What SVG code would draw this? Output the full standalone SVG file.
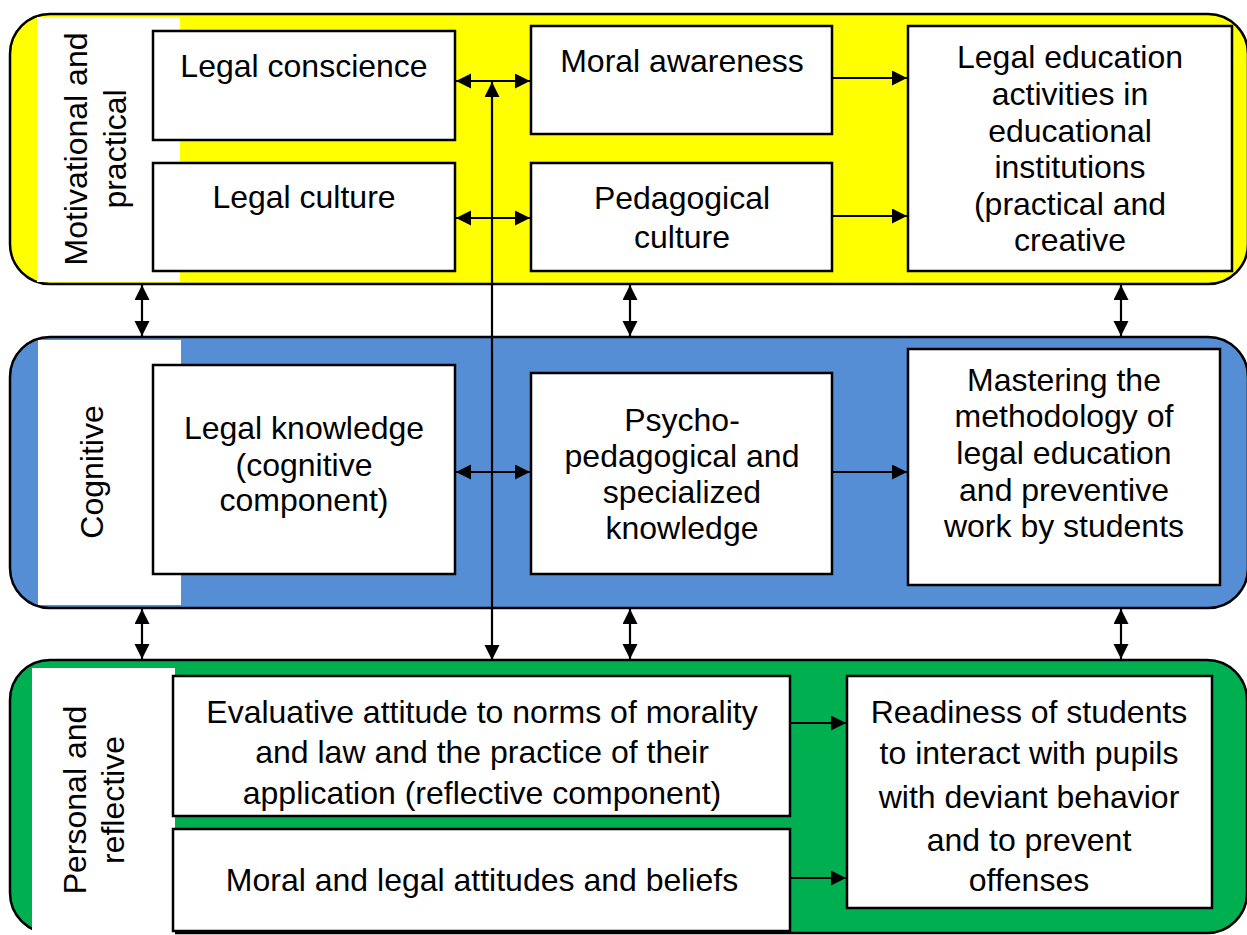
<svg xmlns="http://www.w3.org/2000/svg" width="1247" height="935" viewBox="0 0 1247 935">
<style>
.band{stroke:#000;stroke-width:2.5}
.lab{fill:#fff;stroke:none}
.box{fill:#fff;stroke:#000;stroke-width:2.5}
text{font-family:"Liberation Sans",Arial,sans-serif;font-size:32px;fill:#000;text-anchor:middle}
.c line{stroke:#000;stroke-width:2.2}
</style>
<defs>
<marker id="ah" markerUnits="userSpaceOnUse" markerWidth="16" markerHeight="16" refX="15" refY="7.5" orient="auto-start-reverse" viewBox="0 0 16 16">
<path d="M0,0 L15,7.5 L0,15 z" fill="#000"/>
</marker>
</defs>
<rect fill="#fff" width="1247" height="935"/>

<g id="band-motivational">
<rect class="band" x="10" y="14" width="1238" height="270" rx="40" fill="#ffff00"/>
<rect class="lab" x="37" y="17" width="143" height="265"/>
<text transform="translate(87,149) rotate(-90)">Motivational and</text>
<text transform="translate(126,149) rotate(-90)">practical</text>
</g>
<g id="band-cognitive">
<rect class="band" x="10" y="337" width="1238" height="271" rx="40" fill="#558ed5"/>
<rect class="lab" x="38" y="340" width="143" height="265"/>
<text transform="translate(103,472) rotate(-90)">Cognitive</text>
</g>
<g id="band-personal">
<rect class="band" x="10" y="660" width="1237" height="273" rx="40" fill="#00b050"/>
<rect class="lab" x="32" y="668" width="143" height="267"/>
<text transform="translate(86,800) rotate(-90)">Personal and</text>
<text transform="translate(124,800) rotate(-90)">reflective</text>
</g>

<g id="legal-conscience"><rect class="box" x="153" y="31" width="302" height="109"/><text x="304" y="77">Legal conscience</text></g>
<g id="legal-culture"><rect class="box" x="153" y="163" width="302" height="108"/><text x="304" y="208">Legal culture</text></g>
<g id="moral-awareness"><rect class="box" x="531" y="26" width="301" height="108"/><text x="682" y="72">Moral awareness</text></g>
<g id="pedagogical-culture"><rect class="box" x="531" y="163" width="301" height="108"/><text x="682" y="209">Pedagogical</text><text x="682" y="248">culture</text></g>
<g id="legal-education-activities"><rect class="box" x="908" y="26" width="324" height="245"/>
<text x="1070" y="68">Legal education</text><text x="1070" y="105">activities in</text><text x="1070" y="142">educational</text><text x="1070" y="178">institutions</text><text x="1070" y="215">(practical and</text><text x="1070" y="251">creative</text></g>

<g id="legal-knowledge"><rect class="box" x="153" y="365" width="302" height="209"/>
<text x="304" y="439">Legal knowledge</text><text x="304" y="476">(cognitive</text><text x="304" y="511">component)</text></g>
<g id="psycho-pedagogical"><rect class="box" x="531" y="373" width="301" height="201"/>
<text x="682" y="431">Psycho-</text><text x="682" y="467">pedagogical and</text><text x="682" y="503">specialized</text><text x="682" y="539">knowledge</text></g>
<g id="mastering"><rect class="box" x="908" y="349" width="312" height="236"/>
<text x="1064" y="391">Mastering the</text><text x="1064" y="427">methodology of</text><text x="1064" y="464">legal education</text><text x="1064" y="501">and preventive</text><text x="1064" y="537">work by students</text></g>

<g id="evaluative-attitude"><rect class="box" x="173" y="676" width="617" height="140"/>
<text x="482" y="723">Evaluative attitude to norms of morality</text><text x="482" y="763">and law and the practice of their</text><text x="482" y="804">application (reflective component)</text></g>
<g id="moral-legal-attitudes"><rect class="box" x="173" y="829" width="617" height="102"/>
<text x="482" y="891">Moral and legal attitudes and beliefs</text></g>
<g id="readiness"><rect class="box" x="847" y="676" width="365" height="232"/>
<text x="1029" y="723">Readiness of students</text><text x="1029" y="764">to interact with pupils</text><text x="1029" y="808">with deviant behavior</text><text x="1029" y="851">and to prevent</text><text x="1029" y="891">offenses</text></g>

<g id="connectors" class="c">
<line x1="456" y1="81" x2="530" y2="81" marker-start="url(#ah)" marker-end="url(#ah)"/>
<line x1="456" y1="218" x2="530" y2="218" marker-start="url(#ah)" marker-end="url(#ah)"/>
<line x1="456" y1="472" x2="530" y2="472" marker-start="url(#ah)" marker-end="url(#ah)"/>
<line x1="833" y1="78" x2="907" y2="78" marker-end="url(#ah)"/>
<line x1="833" y1="216" x2="907" y2="216" marker-end="url(#ah)"/>
<line x1="833" y1="472" x2="907" y2="472" marker-end="url(#ah)"/>
<line x1="791" y1="723" x2="846" y2="723" marker-end="url(#ah)"/>
<line x1="791" y1="878" x2="846" y2="878" marker-end="url(#ah)"/>
<line x1="492" y1="82" x2="492" y2="660" marker-start="url(#ah)" marker-end="url(#ah)"/>
<line x1="142" y1="285" x2="142" y2="336" marker-start="url(#ah)" marker-end="url(#ah)"/>
<line x1="630" y1="285" x2="630" y2="336" marker-start="url(#ah)" marker-end="url(#ah)"/>
<line x1="1121" y1="285" x2="1121" y2="336" marker-start="url(#ah)" marker-end="url(#ah)"/>
<line x1="142" y1="609" x2="142" y2="659" marker-start="url(#ah)" marker-end="url(#ah)"/>
<line x1="630" y1="609" x2="630" y2="659" marker-start="url(#ah)" marker-end="url(#ah)"/>
<line x1="1121" y1="609" x2="1121" y2="659" marker-start="url(#ah)" marker-end="url(#ah)"/>
</g>
</svg>
